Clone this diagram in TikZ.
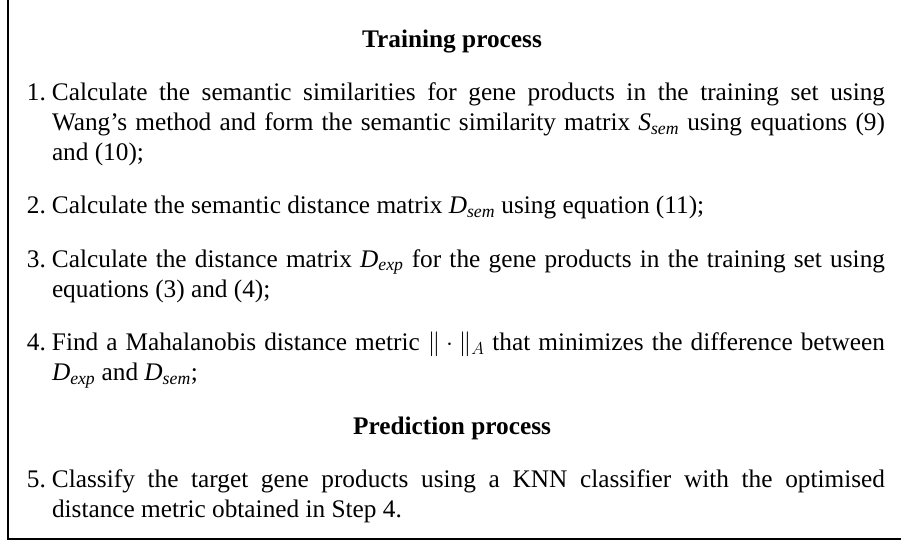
\documentclass[tikz,border=0pt]{standalone}
\usepackage{fontspec}
\setmainfont{Liberation Serif}
\usetikzlibrary{positioning}
\tikzset{
    step-text/.style = {text width=858pt, align=justify, inner sep=0pt, font=\fontsize{25.3}{30}\selectfont},
    phase-title/.style = {inner sep=0pt, font=\fontsize{25.3}{30}\selectfont\bfseries, execute at begin node=\strut},
}
% numbered step with hanging indent, no space shrink, no hyphens
\newcommand{\stepnum}[1]{\noindent\hangindent=25pt\hangafter=1%
  \spaceskip=6.3pt plus 15pt minus 0pt\relax
  \tolerance=9999\relax\hyphenpenalty=10000\relax
  \makebox[25pt][l]{#1}\strut}
\newcommand{\msub}[2]{\textit{#1}\textsubscript{\textit{#2}}}

\begin{document}
\begin{tikzpicture}[x=1pt,y=-1pt]
\useasboundingbox (0,0) rectangle (901,542);
\draw[line width=2.5pt] (8,0) -- (8,539) -- (901,539);

\node[phase-title, anchor=base] (training) at (452,47) {Training process};
\node[step-text, below=23pt of training, xshift=4pt] (sim) {\stepnum{1.}Calculate the semantic similarities for gene products in the training set using Wang's method and form the semantic similarity matrix \msub{S}{sem} using equations (9) and (10);\strut\par};
\node[step-text, below=23pt of sim] (semdist) {\stepnum{2.}Calculate the semantic distance matrix \msub{D}{sem} using equation (11);\strut\par};
\node[step-text, below=23pt of semdist] (expdist) {\stepnum{3.}Calculate the distance matrix \msub{D}{exp} for the gene products in the training set using equations (3) and (4);\strut\par};
\node[step-text, below=23pt of expdist] (metric) {\stepnum{4.}Find a Mahalanobis distance metric $\|\cdot\|_{A}$ that minimizes the difference between \msub{D}{exp} and \msub{D}{sem};\strut\par};

\node[phase-title, below=23pt of metric, xshift=-4pt] (prediction) {Prediction process};
\node[step-text, below=23pt of prediction, xshift=4pt] (classify) {\stepnum{5.}Classify the target gene products using a KNN classifier with the optimised distance metric obtained in Step 4.\strut\par};
\end{tikzpicture}
\end{document}
